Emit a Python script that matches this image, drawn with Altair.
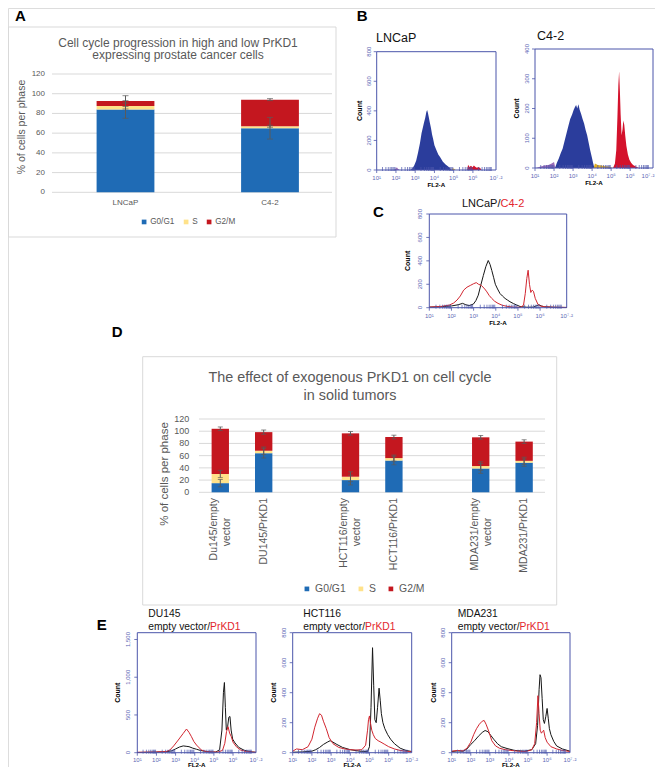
import altair as alt
import numpy as np
import pandas as pd

FONT = "Liberation Sans"
TXT = "#595959"
GRID = "#D9D9D9"
ERR = "#5A5A5A"
FRAME = "#4B55AA"
TICK_TXT = "#5D67B5"
HRED = "#D22630"
HBLACK = "#161616"
TRED = "#E3262E"

phases = ["G0/G1", "S", "G2/M"]
phase_colors = ["#1F6BB5", "#FFE28A", "#C4171F"]

# ---------------- Panel A data ----------------
a_cells = ["LNCaP", "C4-2"]
a_g0g1 = [84, 65]
a_s = [3.5, 2]
a_g2m = [5, 27]
a_sd_g0g1 = [9, 11]
a_sd_s = [3, 1]
a_sd_g2m = [5.5, 1]
a_yticks = [0, 20, 40, 60, 80, 100, 120]

# ---------------- Panel D data ----------------
d_cells = ["Du145/empty\nvector", "DU145/PrKD1", "HCT116/empty\nvector",
           "HCT116/PrKD1", "MDA231/empty\nvector", "MDA231/PrKD1"]
d_slots = [d_cells[0], d_cells[1], "gap1", d_cells[2], d_cells[3], "gap2", d_cells[4], d_cells[5]]
d_g0g1 = [15, 64, 20, 52, 39, 48.5]
d_s = [15, 4, 5.5, 4, 4, 3]
d_g2m = [74, 30.5, 71, 34.5, 47, 31.5]
d_sd_g0g1 = [6, 8, 8, 7, 8, 6]
d_sd_s = [6, 6, 8, 5, 7, 6]
d_sd_g2m = [3, 3.5, 3, 3, 3, 3]
d_yticks = [0, 20, 40, 60, 80, 100, 120]

# ---------------- Histogram data (x = log10 FL2-A, y = count) ----------------
b_lncap_purple_x = [1.90, 2.00, 2.05, 2.10, 2.20]
b_lncap_purple_y = [0, 12, 18, 8, 0]
b_lncap_blue_x = [2.75, 2.85, 2.95, 3.05, 3.15, 3.25, 3.33, 3.40, 3.46, 3.52, 3.58, 3.62, 3.66, 3.70,
                  3.76, 3.82, 3.88, 3.93, 4.00, 4.10, 4.20, 4.30, 4.44, 4.58, 4.70, 4.80, 4.88]
b_lncap_blue_y = [0, 10, 30, 62, 118, 182, 248, 288, 322, 352, 392, 405, 388, 362,
                  322, 284, 238, 212, 168, 136, 104, 86, 56, 38, 25, 14, 0]
b_lncap_yellow_x = [4.88, 4.95, 5.02, 5.10]
b_lncap_yellow_y = [0, 12, 8, 0]
b_lncap_red_x = [5.70, 5.75, 5.82, 5.90, 5.98, 6.05, 6.12, 6.20, 6.30, 6.40, 6.45]
b_lncap_red_y = [0, 35, 20, 28, 18, 30, 22, 15, 20, 10, 0]

b_c42_purple_x = [1.05, 1.30, 1.50, 1.70, 1.85, 2.00, 2.07]
b_c42_purple_y = [0, 5, 8, 10, 14, 20, 0]
b_c42_blue_x = [2.05, 2.15, 2.25, 2.35, 2.45, 2.55, 2.65, 2.75, 2.85, 2.95, 3.03, 3.10, 3.16, 3.22,
                3.28, 3.35, 3.42, 3.50, 3.58, 3.66, 3.74, 3.82, 3.90, 3.98, 4.05, 4.12]
b_c42_blue_y = [0, 18, 32, 50, 65, 90, 115, 140, 165, 180, 195, 205, 212, 200,
                214, 195, 182, 165, 150, 128, 110, 85, 60, 38, 18, 0]
b_c42_yellow_x = [4.08, 4.15, 4.30, 4.50, 4.70, 4.90, 5.10]
b_c42_yellow_y = [0, 15, 10, 8, 6, 5, 0]
b_c42_red_x = [5.10, 5.20, 5.27, 5.33, 5.38, 5.42, 5.46, 5.50, 5.55, 5.60, 5.64, 5.69, 5.74, 5.80,
               5.88, 5.96, 6.05, 6.15, 6.30, 6.45]
b_c42_red_y = [0, 15, 60, 170, 280, 325, 260, 180, 110, 130, 160, 145, 110, 75,
               45, 28, 18, 10, 5, 0]

c_lncap_x = [1.0, 1.5, 2.0, 2.3, 2.5, 2.65, 2.8, 2.99, 3.1, 3.21, 3.32, 3.44, 3.55, 3.66, 3.74, 3.82,
             3.9, 3.98, 4.08, 4.19, 4.3, 4.42, 4.53, 4.64, 4.8, 4.94, 5.1, 5.4, 5.7, 5.85, 5.95,
             6.05, 6.2, 6.6, 7.2]
c_lncap_y = [5, 8, 15, 25, 37, 25, 18, 31, 60, 107, 190, 276, 350, 403, 370, 318,
             260, 200, 160, 121, 100, 79, 65, 51, 35, 23, 10, 4, 5, 18, 25,
             15, 8, 4, 2]
c_c42_x = [1.0, 1.5, 1.9, 2.1, 2.25, 2.4, 2.55, 2.7, 2.85, 3.0, 3.12, 3.22, 3.35, 3.5, 3.6, 3.7,
           3.82, 3.95, 4.1, 4.3, 4.5, 4.8, 5.1, 5.25, 5.33, 5.40, 5.46, 5.52, 5.58, 5.64, 5.70,
           5.78, 5.9, 6.0, 6.2, 6.6, 7.2]
c_c42_y = [5, 10, 22, 40, 65, 100, 150, 175, 190, 205, 214, 200, 190, 160, 135, 105,
           79, 55, 37, 20, 12, 5, 3, 20, 120, 250, 320, 200, 130, 150, 140,
           80, 30, 15, 8, 4, 2]

e_du_blk_x = [1.0, 1.5, 2.0, 2.5, 2.8, 3.0, 3.2, 3.4, 3.55, 3.7, 3.9, 4.1, 4.3, 4.5, 4.8, 5.1,
              5.3, 5.42, 5.5, 5.55, 5.6, 5.65, 5.72, 5.78, 5.84, 5.9, 5.98, 6.1, 6.3, 6.6, 7.0, 7.2]
e_du_blk_y = [3, 5, 8, 12, 25, 50, 75, 90, 85, 80, 60, 45, 30, 20, 10, 8,
              40, 300, 800, 930, 600, 300, 350, 470, 480, 300, 180, 130, 70, 30, 10, 5]
e_du_red_x = [1.0, 1.5, 2.0, 2.5, 2.7, 2.9, 3.14, 3.4, 3.57, 3.7, 3.83, 3.95, 4.09, 4.35, 4.6, 4.9,
              5.2, 5.45, 5.57, 5.66, 5.74, 5.82, 5.91, 6.0, 6.17, 6.4, 6.7, 7.0, 7.2]
e_du_red_y = [5, 8, 10, 15, 35, 90, 168, 256, 314, 270, 212, 150, 102, 35, 15, 10,
              8, 30, 124, 280, 345, 260, 212, 140, 80, 35, 15, 8, 5]

e_hct_blk_x = [1.0, 1.5, 2.0, 2.2, 2.4, 2.6, 2.8, 2.95, 3.1, 3.3, 3.6, 4.0, 4.5, 4.9, 5.0, 5.08,
               5.16, 5.22, 5.28, 5.35, 5.42, 5.5, 5.56, 5.62, 5.7, 5.8, 5.95, 6.1, 6.3, 6.6, 6.9, 7.2]
e_hct_blk_y = [3, 5, 10, 20, 35, 55, 70, 80, 70, 55, 35, 20, 10, 8, 40, 300,
               700, 450, 220, 200, 300, 430, 350, 260, 200, 160, 120, 90, 60, 30, 15, 8]
e_hct_red_x = [1.0, 1.2, 1.5, 1.8, 2.0, 2.15, 2.3, 2.4, 2.5, 2.6, 2.75, 2.9, 3.1, 3.4, 3.7, 4.0,
               4.3, 4.6, 4.8, 4.9, 4.95, 5.0, 5.05, 5.12, 5.2, 5.3, 5.45, 5.6, 5.8, 6.0, 6.3, 6.6,
               7.0, 7.2]
e_hct_red_y = [10, 25, 20, 40, 90, 170, 230, 260, 250, 210, 160, 100, 60, 35, 25, 20,
               18, 20, 50, 150, 220, 245, 200, 150, 120, 95, 80, 70, 55, 40, 25, 15,
               8, 5]

e_mda_blk_x = [1.0, 1.3, 1.6, 1.8, 2.0, 2.2, 2.4, 2.6, 2.75, 2.9, 3.05, 3.2, 3.4, 3.6, 3.9, 4.3,
               4.8, 5.2, 5.4, 5.5, 5.58, 5.63, 5.68, 5.74, 5.8, 5.86, 5.93, 6.0, 6.06, 6.12, 6.2,
               6.35, 6.5, 6.8, 7.2]
e_mda_blk_y = [8, 12, 10, 25, 55, 80, 110, 135, 148, 140, 115, 90, 60, 40, 28, 15,
               10, 20, 60, 180, 420, 520, 500, 360, 220, 195, 240, 295, 230, 160, 120,
               75, 45, 25, 10]
e_mda_red_x = [1.0, 1.3, 1.6, 1.8, 2.0, 2.15, 2.3, 2.45, 2.6, 2.7, 2.8, 2.95, 3.1, 3.3, 3.5, 3.8,
               4.1, 4.5, 4.9, 5.2, 5.35, 5.45, 5.52, 5.58, 5.64, 5.7, 5.76, 5.82, 5.9, 6.0, 6.2,
               6.5, 6.8, 7.2]
e_mda_red_y = [10, 15, 12, 30, 70, 120, 160, 190, 210, 215, 190, 140, 80, 45, 30, 20,
               15, 10, 8, 20, 60, 200, 380, 260, 150, 130, 140, 150, 100, 70, 40,
               25, 15, 8]

# axis decorations of the flow plots
major_vals = [1, 2, 3, 4, 5, 6]
major_labs = ["10¹", "10²", "10³", "10⁴", "10⁵", "10⁶"]
end_val = 7.2
end_lab = "10⁷·²"
minor_vals = [d + float(np.log10(k)) for d in range(1, 7) for k in range(2, 10)]


def txt(t, x, y, size, color="#000000", align="left", baseline="alphabetic",
        weight="normal", angle=0, dy=0):
    kw = dict(align=align, baseline=baseline, fontSize=size, color=color,
              fontWeight=weight, font=FONT)
    if angle:
        kw["angle"] = angle
    if dy:
        kw["dy"] = dy
    return alt.Chart(pd.DataFrame({"t": [t]})).mark_text(**kw).encode(
        x=alt.value(x), y=alt.value(y), text="t:N")


def box(x0, y0, x1, y1):
    return alt.Chart(pd.DataFrame({"b": [0]})).mark_rect(
        fill="white", stroke=GRID, strokeWidth=1).encode(
        x=alt.value(x0), x2=alt.value(x1), y=alt.value(y0), y2=alt.value(y1))


def bar_layers(cells, g0, s, g2, sd0, sd1, sd2, xs, ys, legend, cap):
    rows = []
    erows = []
    for i, c in enumerate(cells):
        vals = [g0[i], s[i], g2[i]]
        for j, (ph, v) in enumerate(zip(phases, vals)):
            rows.append({"cell": c, "phase": ph, "value": v, "ord": j})
        tops = [g0[i], g0[i] + s[i], g0[i] + s[i] + g2[i]]
        for top, sd in zip(tops, [sd0[i], sd1[i], sd2[i]]):
            erows.append({"cell": c, "top": top, "sd": sd})
    df = pd.DataFrame(rows)
    edf = pd.DataFrame(erows)
    X = alt.X("cell:N", scale=xs, axis=None)
    bars = alt.Chart(df).mark_bar().encode(
        x=X,
        y=alt.Y("value:Q", scale=ys, axis=None, stack="zero"),
        color=alt.Color("phase:N", scale=alt.Scale(domain=phases, range=phase_colors),
                        legend=legend),
        order=alt.Order("ord:Q"))
    err = alt.Chart(edf).transform_calculate(
        lo="datum.top - datum.sd", hi="datum.top + datum.sd")
    rule = err.mark_rule(color=ERR, strokeWidth=1).encode(
        x=X, y=alt.Y("lo:Q", scale=ys, axis=None), y2="hi:Q")
    caps = err.transform_fold(["lo", "hi"], as_=["k", "v"]).mark_tick(
        orient="horizontal", size=cap, thickness=1, color=ERR).encode(
        x=X, y=alt.Y("v:Q", scale=ys, axis=None))
    return [bars, rule, caps]


# ---------------- Panel A ----------------
xsA = alt.Scale(domain=a_cells, range=[45.25, 334.25], paddingInner=0.6, paddingOuter=0.3)
ysA = alt.Scale(domain=[0, 120], range=[184.3, 66], nice=False, zero=False)
legA = alt.Legend(orient="none", legendX=132, legendY=209.5, direction="horizontal", title=None,
                  symbolType="square", symbolSize=22, symbolStrokeWidth=0, labelFontSize=8.2,
                  labelColor=TXT, labelFont=FONT, columnPadding=7, labelOffset=2, padding=0)
gridA = alt.Chart(pd.DataFrame({"v": a_yticks})).mark_rule(color=GRID, strokeWidth=1).encode(
    y=alt.Y("v:Q", scale=ysA, axis=None), x=alt.value(44), x2=alt.value(324))
ylabA = alt.Chart(pd.DataFrame({"v": a_yticks})).mark_text(
    align="right", baseline="middle", fontSize=8, color=TXT, font=FONT).encode(
    y=alt.Y("v:Q", scale=ysA, axis=None), x=alt.value(37), text="v:Q")
xlabA = alt.Chart(pd.DataFrame({"cell": a_cells})).mark_text(
    align="center", baseline="middle", fontSize=8, color=TXT, font=FONT).encode(
    x=alt.X("cell:N", scale=xsA, axis=None), y=alt.value(195), text="cell:N")
panelA = alt.layer(
    box(0.5, 19, 328, 229),
    gridA,
    *bar_layers(a_cells, a_g0g1, a_s, a_g2m, a_sd_g0g1, a_sd_s, a_sd_g2m, xsA, ysA, legA, 6),
    ylabA, xlabA,
    txt("Cell cycle progression in high and low PrKD1", 170, 38.7, 12, TXT, align="center"),
    txt("expressing prostate cancer cells", 170, 51.3, 12, TXT, align="center"),
    txt("% of cells per phase", 14, 119, 10.5, TXT, align="center", baseline="middle", angle=270),
)

# ---------------- Panel D ----------------
xsD = alt.Scale(domain=d_slots, range=[181.9, 546.5], paddingInner=0.6, paddingOuter=0.5)
ysD = alt.Scale(domain=[0, 120], range=[484.3, 411], nice=False, zero=False)
legD = alt.Legend(orient="none", legendX=293.7, legendY=575.5, direction="horizontal", title=None,
                  symbolType="square", symbolSize=22, symbolStrokeWidth=0, labelFontSize=10.4,
                  labelColor=TXT, labelFont=FONT, columnPadding=9, labelOffset=3, padding=0)
gridD = alt.Chart(pd.DataFrame({"v": d_yticks})).mark_rule(color=GRID, strokeWidth=1).encode(
    y=alt.Y("v:Q", scale=ysD, axis=None), x=alt.value(191), x2=alt.value(537))
ylabD = alt.Chart(pd.DataFrame({"v": d_yticks})).mark_text(
    align="right", baseline="middle", fontSize=9, color=TXT, font=FONT).encode(
    y=alt.Y("v:Q", scale=ysD, axis=None), x=alt.value(181.3), text="v:Q")
single = [c for c in d_cells if "\n" not in c]
double = [c for c in d_cells if "\n" in c]
XD = alt.X("cell:N", scale=xsD, axis=None)
lab1 = alt.Chart(pd.DataFrame({"cell": single, "t": single})).mark_text(
    angle=270, align="right", baseline="middle", fontSize=10.5, color=TXT, font=FONT).encode(
    x=XD, y=alt.value(490), text="t:N")
lab2a = alt.Chart(pd.DataFrame({"cell": double, "t": [c.split("\n")[0] for c in double]})).mark_text(
    angle=270, align="right", baseline="middle", fontSize=10.5, color=TXT, font=FONT, dy=-6).encode(
    x=XD, y=alt.value(490), text="t:N")
lab2b = alt.Chart(pd.DataFrame({"cell": double, "t": [c.split("\n")[1] for c in double]})).mark_text(
    angle=270, align="center", baseline="middle", fontSize=10.5, color=TXT, font=FONT, dy=7).encode(
    x=XD, y=alt.value(524), text="t:N")
panelD = alt.layer(
    box(134.7, 348.7, 548.7, 597),
    gridD,
    *bar_layers(d_cells, d_g0g1, d_s, d_g2m, d_sd_g0g1, d_sd_s, d_sd_g2m, xsD, ysD, legD, 5),
    ylabD, lab1, lab2a, lab2b,
    txt("The effect of exogenous PrKD1 on cell cycle", 342, 373.7, 14.4, TXT, align="center"),
    txt("in solid tumors", 342, 392, 14.4, TXT, align="center"),
    txt("% of cells per phase", 157, 466, 11.5, TXT, align="center", baseline="middle", angle=270),
)


# ---------------- Flow histograms ----------------
def hist_panel(x0, x1, ytop, ybot, ymax, yvals, ylabs, series, lab_dx=8, count_dx=18,
               xlab_dy=8, fl_dy=15, end_dx=0):
    xs = alt.Scale(domain=[1, 7.2], range=[x0, x1], nice=False, zero=False)
    ys = alt.Scale(domain=[0, ymax], range=[ybot, ytop], nice=False, zero=False)
    layers = []
    for xv, yv, color, kind in series:
        df = pd.DataFrame({"x": xv, "y": yv})
        enc = dict(x=alt.X("x:Q", scale=xs, axis=None), y=alt.Y("y:Q", scale=ys, axis=None))
        if kind == "fill":
            m = alt.Chart(df).mark_area(color=color, interpolate="linear")
        else:
            m = alt.Chart(df).mark_line(color=color, strokeWidth=1, interpolate="linear")
        layers.append(m.encode(**enc))
    layers.append(alt.Chart(pd.DataFrame({"t": minor_vals})).mark_rule(
        color=FRAME, strokeWidth=0.7).encode(
        x=alt.X("t:Q", scale=xs, axis=None), y=alt.value(ybot - 3), y2=alt.value(ybot + 1)))
    mdf = pd.DataFrame({"t": major_vals, "lab": major_labs})
    layers.append(alt.Chart(mdf).mark_rule(color=FRAME, strokeWidth=0.8).encode(
        x=alt.X("t:Q", scale=xs, axis=None), y=alt.value(ybot), y2=alt.value(ybot + 3)))
    layers.append(alt.Chart(mdf).mark_text(
        fontSize=6, color=TICK_TXT, baseline="middle", align="center", font=FONT).encode(
        x=alt.X("t:Q", scale=xs, axis=None), y=alt.value(ybot + xlab_dy), text="lab:N"))
    edf = pd.DataFrame({"t": [end_val], "lab": [end_lab]})
    ekw = dict(fontSize=6, color=TICK_TXT, baseline="middle", align="center", font=FONT)
    if end_dx:
        ekw["dx"] = end_dx
    layers.append(alt.Chart(edf).mark_text(**ekw).encode(
        x=alt.X("t:Q", scale=xs, axis=None), y=alt.value(ybot + xlab_dy), text="lab:N"))
    ydf = pd.DataFrame({"v": yvals, "lab": ylabs})
    layers.append(alt.Chart(ydf).mark_rule(color=FRAME, strokeWidth=0.8).encode(
        y=alt.Y("v:Q", scale=ys, axis=None), x=alt.value(x0 - 3), x2=alt.value(x0)))
    layers.append(alt.Chart(ydf).mark_text(
        fontSize=6, color=TICK_TXT, angle=270, align="center", baseline="middle", font=FONT).encode(
        y=alt.Y("v:Q", scale=ys, axis=None), x=alt.value(x0 - lab_dx), text="lab:N"))
    layers.append(alt.Chart(pd.DataFrame({"f": [0]})).mark_rect(
        fillOpacity=0, stroke=FRAME, strokeWidth=1).encode(
        x=alt.XDatum(1, scale=xs, axis=None), x2=alt.X2Datum(7.2),
        y=alt.YDatum(0, scale=ys, axis=None), y2=alt.Y2Datum(ymax)))
    layers.append(txt("Count", x0 - count_dx, (ytop + ybot) / 2, 7, "#000000", align="center",
                      baseline="middle", weight="bold", angle=270))
    layers.append(txt("FL2-A", (x0 + x1) / 2, ybot + fl_dy, 6.2, "#000000", align="center",
                      baseline="middle", weight="bold"))
    return alt.layer(*layers)


BLUE_F = "#2B3D9C"
RED_F = "#D4122C"
YEL_F = "#E1AE22"
PUR_F = "#9A6CB8"
y800 = [0, 200, 400, 600, 800]
y800l = ["0", "200", "400", "600", "800"]

panelB1 = hist_panel(368.7, 488, 43.7, 162, 800, y800, y800l, [
    (b_lncap_purple_x, b_lncap_purple_y, PUR_F, "fill"),
    (b_lncap_blue_x, b_lncap_blue_y, BLUE_F, "fill"),
    (b_lncap_yellow_x, b_lncap_yellow_y, YEL_F, "fill"),
    (b_lncap_red_x, b_lncap_red_y, RED_F, "fill")], lab_dx=8, count_dx=17)
panelB2 = hist_panel(527, 645, 41, 160, 400, [0, 100, 200, 300, 400],
                     ["0", "100", "200", "300", "400"], [
    (b_c42_purple_x, b_c42_purple_y, PUR_F, "fill"),
    (b_c42_blue_x, b_c42_blue_y, BLUE_F, "fill"),
    (b_c42_yellow_x, b_c42_yellow_y, YEL_F, "fill"),
    (b_c42_red_x, b_c42_red_y, RED_F, "fill")], lab_dx=8, count_dx=18, end_dx=-5)
panelC = hist_panel(421.3, 558.7, 206, 299.7, 800, y800, y800l, [
    (c_lncap_x, c_lncap_y, HBLACK, "line"),
    (c_c42_x, c_c42_y, HRED, "line")], lab_dx=9, count_dx=21)
E_KW = dict(lab_dx=9, xlab_dy=7, fl_dy=12.5)
panelE1 = hist_panel(129.3, 248, 624.7, 744.7, 1590, [0, 500, 1000, 1500],
                     ["0", "500", "1,000", "1,500"], [
    (e_du_blk_x, e_du_blk_y, HBLACK, "line"),
    (e_du_red_x, e_du_red_y, HRED, "line")], count_dx=19, **E_KW)
panelE2 = hist_panel(284.7, 403.7, 624.7, 744.7, 800, y800, y800l, [
    (e_hct_blk_x, e_hct_blk_y, HBLACK, "line"),
    (e_hct_red_x, e_hct_red_y, HRED, "line")], count_dx=19, **E_KW)
panelE3 = hist_panel(443.7, 562, 624.7, 744.7, 800, y800, y800l, [
    (e_mda_blk_x, e_mda_blk_y, HBLACK, "line"),
    (e_mda_red_x, e_mda_red_y, HRED, "line")], count_dx=18, **E_KW)

fs_e = 10.3
split = 6.002 * fs_e
titles = alt.layer(
    txt("A", 7, 12.5, 15, weight="bold"),
    txt("B", 348.7, 12.8, 15, weight="bold"),
    txt("C", 365, 209, 15, weight="bold"),
    txt("D", 103.7, 329.3, 15, weight="bold"),
    txt("E", 88.7, 622, 15, weight="bold"),
    txt("LNCaP", 368, 33.7, 12.5, "#111111"),
    txt("C4-2", 529, 32, 12.5, "#111111"),
    txt("LNCaP/", 492.5, 199, 11, "#111111", align="right"),
    txt("C4-2", 492.5, 199, 11, TRED, align="left"),
    txt("DU145", 140.3, 609.3, fs_e, "#111111"),
    txt("empty vector/", 140.3 + split, 622, fs_e, "#111111", align="right"),
    txt("PrKD1", 140.3 + split, 622, fs_e, TRED),
    txt("HCT116", 295.3, 609.3, fs_e, "#111111"),
    txt("empty vector/", 295.3 + split, 622, fs_e, "#111111", align="right"),
    txt("PrKD1", 295.3 + split, 622, fs_e, TRED),
    txt("MDA231", 449.7, 609.3, fs_e, "#111111"),
    txt("empty vector/", 449.7 + split, 622, fs_e, "#111111", align="right"),
    txt("PrKD1", 449.7 + split, 622, fs_e, TRED),
)

chart = alt.layer(
    panelA, panelD, panelB1, panelB2, panelC, panelE1, panelE2, panelE3, titles
).resolve_scale(
    x="independent", y="independent", color="independent"
).properties(
    width=647, height=759, padding=0, autosize="none"
).configure_view(stroke=None).configure(font=FONT)

chart.save("out.html", embed_options={"renderer": "svg", "actions": False})
